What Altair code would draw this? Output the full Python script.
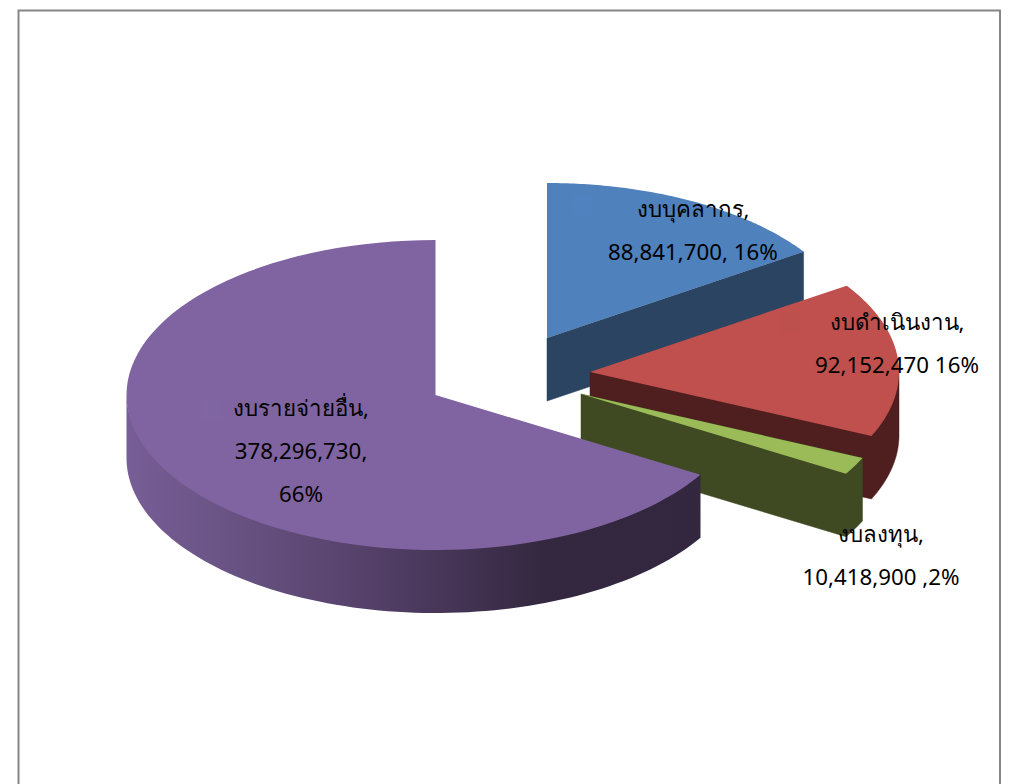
import math
import altair as alt

categories = ["งบบุคลากร", "งบดำเนินงาน", "งบลงทุน", "งบรายจ่ายอื่น"]
values = [88841700, 92152470, 10418900, 378296730]
label_lines = [
    ["งบบุคลากร,", "88,841,700, 16%"],
    ["งบดำเนินงาน,", "92,152,470 16%"],
    ["งบลงทุน,", "10,418,900 ,2%"],
    ["งบรายจ่ายอื่น,", "378,296,730,", "66%"],
]

# layout: exploded slice centres, ellipse radii, wall depth (reference pixels)
centers = [(547, 338), (590, 372), (581, 394), (435.5, 395)]
label_anchor = [(693, 209), (897, 322), (881, 534), (301, 408)]
RX, RY, DEPTH = 309, 155, 63
LINE_GAP = 43

top_colors = ["#4F81BD", "#C0504D", "#9BBB59", "#8064A2"]
side_colors = ["#2B4461", "#4E1F1E", "#3F4A22", None]
FONT = "Noto Sans"

projection = alt.Projection(type="identity", scale=1, translate=[-8, -8])


def shape(ring, **mark):
    feature = {
        "type": "Feature",
        "properties": {},
        "geometry": {"type": "Polygon", "coordinates": [[list(p) for p in ring]]},
    }
    return (
        alt.Chart(alt.Data(values=[feature]))
        .mark_geoshape(**mark)
        .project(**projection.to_dict())
    )


def rim(c, a0, a1, n=90):
    pts = []
    for i in range(n + 1):
        a = math.radians(a0 + (a1 - a0) * i / n)
        pts.append((c[0] + RX * math.sin(a), c[1] - RY * math.cos(a)))
    return pts


def wall_ring(wall):
    upper = [(x, y - 2) for x, y in wall]
    lower = [(x, y + DEPTH) for x, y in wall]
    return upper + lower[::-1] + [upper[0]]


total = sum(values)
layers = [
    shape([(18.5, 10.5), (1000, 10.5), (1000, 900), (18.5, 900), (18.5, 10.5)],
          fill="#FFFFFF", stroke="#868686", strokeWidth=2)
]

start = 0.0
for i, v in enumerate(values):
    end = start + v / total * 360
    c = centers[i]
    arc = rim(c, start, end)
    top_ring = [c] + arc + [c]
    c_low = (c[0], c[1] + DEPTH)
    if i < 3:
        # radial end face and outer wall as one outline, so no seam shows between them
        if end > 90:
            wall = rim(c, max(start, 90), end)
            lower = [(x, y + DEPTH) for x, y in wall]
            side = [c, wall[0]] + lower + [c_low, c]
        else:
            p_end = arc[-1]
            side = [c, p_end, (p_end[0], p_end[1] + DEPTH), c_low, c]
        layers.append(shape(side, fill=side_colors[i], stroke=side_colors[i], strokeWidth=0.5))
    else:
        wall = rim(c, start, 270)
        gradient = alt.LinearGradient(
            gradient="linear", x1=1, x2=0, y1=0, y2=0,
            stops=[
                alt.GradientStop(offset=0.0, color="#32273F"),
                alt.GradientStop(offset=0.27, color="#33283F"),
                alt.GradientStop(offset=0.5, color="#4D3A5F"),
                alt.GradientStop(offset=0.75, color="#634E7C"),
                alt.GradientStop(offset=1.0, color="#775E96"),
            ],
        )
        layers.append(shape(wall_ring(wall), fill=gradient, strokeWidth=0))
    layers.append(shape(top_ring, fill=top_colors[i], strokeWidth=0))
    start = end

# faint legend-key squares left behind beside the labels
keys = [
    {"lon": 582, "lat": 205, "c": "#4F82BE"},
    {"lon": 790, "lat": 323, "c": "#BD4F4C"},
    {"lon": 211, "lat": 409, "c": "#7F65A2"},
]
layers.append(
    alt.Chart(alt.Data(values=keys))
    .mark_square(size=400, opacity=1, filled=True)
    .encode(longitude="lon:Q", latitude="lat:Q",
            color=alt.Color("c:N", scale=None, legend=None))
    .project(**projection.to_dict())
)

rows = []
for cat, lines, (x, y) in zip(categories, label_lines, label_anchor):
    for j, line in enumerate(lines):
        rows.append({"lon": x, "lat": y + j * LINE_GAP + 1, "t": line, "cat": cat})

layers.append(
    alt.Chart(alt.Data(values=rows))
    .mark_text(font=FONT, fontSize=22.3, color="#000000", align="center", baseline="middle")
    .encode(longitude="lon:Q", latitude="lat:Q", text="t:N")
    .project(**projection.to_dict())
)

chart = (
    alt.layer(*layers)
    .properties(width=993, height=776, padding=0, autosize=alt.AutoSizeParams(type="none"))
    .configure_view(stroke=None)
    .configure(background="#FFFFFF")
)

chart.save("out.html", embed_options={"renderer": "svg", "actions": False})
